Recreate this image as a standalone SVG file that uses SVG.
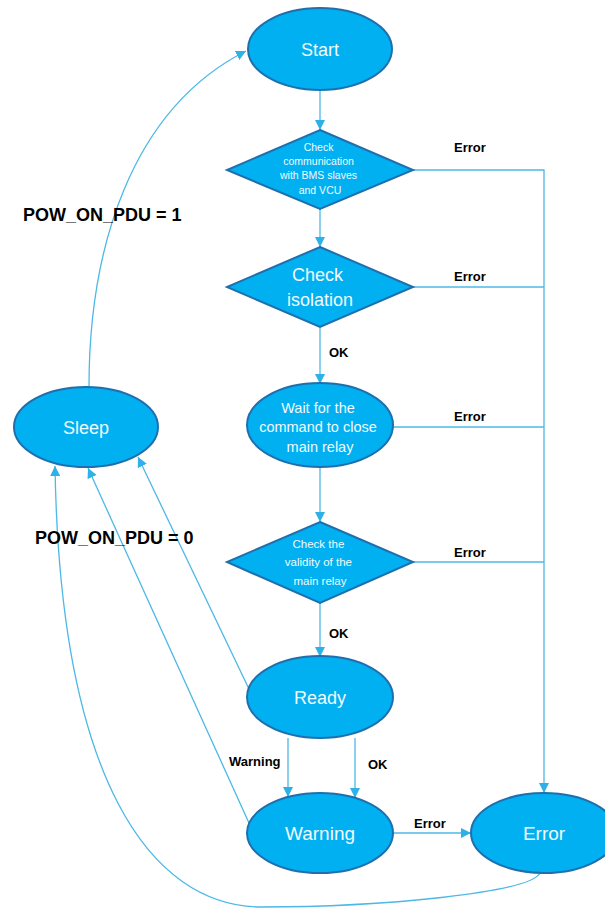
<svg xmlns="http://www.w3.org/2000/svg" width="605" height="908" viewBox="0 0 605 908">
<style>
.node{fill:#00B0F0;stroke:#1F6FAE;stroke-width:2}
.nt{fill:#F2FAFF;font-family:"Liberation Sans",Arial,sans-serif;text-anchor:middle}
.lbl{fill:#000;font-family:"Liberation Sans",Arial,sans-serif;font-weight:bold;font-size:13px}
.big{font-size:18px}
.c{fill:none;stroke:#4DB8E6;stroke-width:1.3}
</style>
<defs>
<marker id="ah" viewBox="0 0 10 10" refX="10" refY="5" markerWidth="10" markerHeight="10" markerUnits="userSpaceOnUse" orient="auto">
<path d="M0,0 L10,5 L0,10 Z" fill="#2EB0E8"/>
</marker>
</defs>
<rect width="605" height="908" fill="#fff"/>
<g id="connectors">
<path class="c" d="M320,90 L320,130" marker-end="url(#ah)"/>
<path class="c" d="M320,209 L320,247" marker-end="url(#ah)"/>
<path class="c" d="M320,327 L320,384" marker-end="url(#ah)"/>
<path class="c" d="M320,467 L320,522" marker-end="url(#ah)"/>
<path class="c" d="M320,603 L320,657" marker-end="url(#ah)"/>
<path class="c" d="M288,738 L288,797" marker-end="url(#ah)"/>
<path class="c" d="M355,738 L355,798" marker-end="url(#ah)"/>
<path class="c" d="M393,833 L471,833" marker-end="url(#ah)"/>
<path class="c" d="M413,170 L544,170 L544,793" marker-end="url(#ah)"/>
<path class="c" d="M413,287 L544,287"/>
<path class="c" d="M393,427 L544,427"/>
<path class="c" d="M413,562 L544,562"/>
<path class="c" d="M89,387 C89,250 130,110 246,51" marker-end="url(#ah)"/>
<path class="c" d="M249,689 L138,457" marker-end="url(#ah)"/>
<path class="c" d="M249,823 L88,468" marker-end="url(#ah)"/>
<path class="c" d="M540,873 C530,893 380,907 260,907 C150,905 60,780 55,466" marker-end="url(#ah)"/>
<text class="lbl" x="454" y="152">Error</text>
<text class="lbl" x="454" y="281">Error</text>
<text class="lbl" x="454" y="421">Error</text>
<text class="lbl" x="454" y="557">Error</text>
<text class="lbl" x="329" y="357">OK</text>
<text class="lbl" x="329" y="638">OK</text>
<text class="lbl" x="229" y="766">Warning</text>
<text class="lbl" x="368" y="769">OK</text>
<text class="lbl" x="414" y="828">Error</text>
<text class="lbl big" x="23" y="221">POW_ON_PDU = 1</text>
<text class="lbl big" x="35" y="544">POW_ON_PDU = 0</text>
</g>
<g id="start">
<ellipse class="node" cx="320" cy="49" rx="72" ry="41"/>
<text class="nt" x="320" y="56" font-size="18">Start</text>
</g>
<g id="check-comm">
<path class="node" d="M320,130 L413,170 L320,209 L227,170 Z"/>
<text class="nt" font-size="10.5">
<tspan x="320" y="151">Check</tspan>
<tspan x="320" y="165">communication</tspan>
<tspan x="320" y="179">with BMS slaves</tspan>
<tspan x="320" y="194">and VCU</tspan>
</text>
</g>
<g id="check-isolation">
<path class="node" d="M320,247 L413,287 L320,327 L227,287 Z"/>
<text class="nt" font-size="18">
<tspan x="320" y="281">Check</tspan>
<tspan x="320" y="306">isolation</tspan>
</text>
</g>
<g id="wait">
<ellipse class="node" cx="320" cy="425" rx="73" ry="42"/>
<text class="nt" font-size="14.5">
<tspan x="320" y="413">Wait for the</tspan>
<tspan x="320" y="432">command to close</tspan>
<tspan x="320" y="452">main relay</tspan>
</text>
</g>
<g id="check-validity">
<path class="node" d="M320,522 L413,562 L320,603 L227,562 Z"/>
<text class="nt" font-size="11.5">
<tspan x="320" y="548">Check the</tspan>
<tspan x="320" y="566">validity of the</tspan>
<tspan x="320" y="585">main relay</tspan>
</text>
</g>
<g id="ready">
<ellipse class="node" cx="320" cy="697" rx="73" ry="41"/>
<text class="nt" x="320" y="704" font-size="18">Ready</text>
</g>
<g id="warning">
<ellipse class="node" cx="320" cy="833" rx="73" ry="40"/>
<text class="nt" x="320" y="840" font-size="19">Warning</text>
</g>
<g id="error">
<ellipse class="node" cx="544" cy="833" rx="73" ry="40"/>
<text class="nt" x="544" y="840" font-size="19">Error</text>
</g>
<g id="sleep">
<ellipse class="node" cx="86" cy="427" rx="72" ry="40"/>
<text class="nt" x="86" y="434" font-size="18">Sleep</text>
</g>
</svg>
